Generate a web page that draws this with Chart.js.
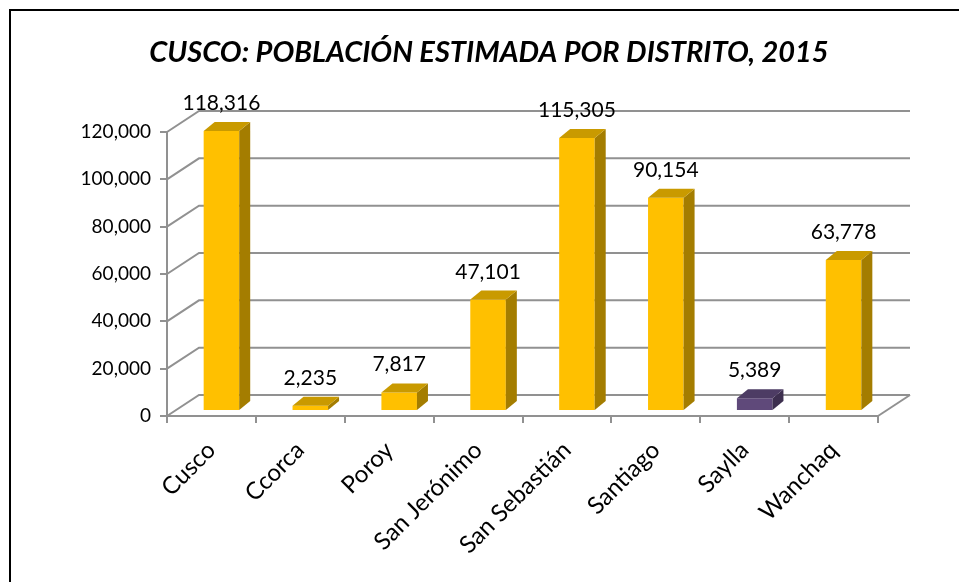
<!DOCTYPE html>
<html>
<head>
<meta charset="utf-8">
<title>Cusco: población estimada por distrito, 2015</title>
<script src="https://cdn.jsdelivr.net/npm/chart.js@4"></script>
<style>
    html, body { margin: 0; padding: 0; background: #fff; overflow: hidden; }
    #marco { position: absolute; left: 9px; top: 9px; width: 1000px; height: 700px; border: 2px solid #000; box-sizing: border-box; }
    #contenedor { position: absolute; left: 0; top: 0; width: 959px; height: 582px; }
</style>
</head>
<body>
<div id="marco"></div>
<div id="contenedor"><canvas id="grafico"></canvas></div>
<script>
// Datos del gráfico
const titulo = 'CUSCO: POBLACIÓN ESTIMADA POR DISTRITO, 2015';
const distritos = ['Cusco', 'Ccorca', 'Poroy', 'San Jerónimo', 'San Sebastián', 'Santiago', 'Saylla', 'Wanchaq'];
const poblacion = [118316, 2235, 7817, 47101, 115305, 90154, 5389, 63778];
const marcasY = [0, 20000, 40000, 60000, 80000, 100000, 120000];
const destacado = 'Saylla';

// Colores (frente, lado, tapa)
const amarillo = { frente: '#FFC000', lado: '#A47D00', tapa: '#C99A00' };
const morado = { frente: '#5F497A', lado: '#3D2F4F', tapa: '#4D3C64' };
const gris = '#919191';

// Desplazamientos para simular la perspectiva 3D
const prof = { muroX: 32, muroY: -21, barraX: 10, barraY: -5, cajaX: 11, cajaY: -9 };

const fuente = 'Lato, "Open Sans", sans-serif';

function colorDe(i) {
    return distritos[i] === destacado ? morado : amarillo;
}

const efecto3d = {
    id: 'efecto3d',
    afterLayout(chart) {
        // El título está centrado un poco a la derecha del centro del lienzo
        chart.titleBlock.left += 100;
    },
    beforeDatasetsDraw(chart) {
        const { ctx, chartArea, scales } = chart;
        const y = scales.y;
        ctx.save();
        ctx.strokeStyle = gris;
        ctx.lineWidth = 2;
        // Líneas de la pared del fondo y diagonales de la pared izquierda
        for (const v of marcasY) {
            const py = y.getPixelForValue(v);
            ctx.beginPath();
            ctx.moveTo(chartArea.left, py);
            ctx.lineTo(chartArea.left + prof.muroX, py + prof.muroY);
            ctx.lineTo(chartArea.right + prof.muroX, py + prof.muroY);
            ctx.stroke();
        }
        // Borde derecho del piso
        ctx.beginPath();
        ctx.moveTo(chartArea.right, chartArea.bottom);
        ctx.lineTo(chartArea.right + prof.muroX, chartArea.bottom + prof.muroY);
        ctx.stroke();
        ctx.restore();

        // Las barras se dibujan un poco hacia el fondo
        ctx.save();
        ctx.translate(prof.barraX, prof.barraY);
    },
    afterDatasetsDraw(chart) {
        const { ctx } = chart;
        const meta = chart.getDatasetMeta(0);
        meta.data.forEach((bar, i) => {
            const { x, y, base, width } = bar.getProps(['x', 'y', 'base', 'width'], true);
            const izq = x - width / 2;
            const der = x + width / 2;
            const c = colorDe(i);

            // Cara lateral
            ctx.fillStyle = c.lado;
            ctx.beginPath();
            ctx.moveTo(der, y);
            ctx.lineTo(der + prof.cajaX, y + prof.cajaY);
            ctx.lineTo(der + prof.cajaX, base + prof.cajaY);
            ctx.lineTo(der, base);
            ctx.closePath();
            ctx.fill();

            // Cara superior
            ctx.fillStyle = c.tapa;
            ctx.beginPath();
            ctx.moveTo(izq, y);
            ctx.lineTo(izq + prof.cajaX, y + prof.cajaY);
            ctx.lineTo(der + prof.cajaX, y + prof.cajaY);
            ctx.lineTo(der, y);
            ctx.closePath();
            ctx.fill();
        });
        ctx.restore();

        // Etiquetas de valores
        ctx.save();
        ctx.fillStyle = '#000';
        ctx.font = '21px ' + fuente;
        ctx.textAlign = 'center';
        ctx.textBaseline = 'alphabetic';
        meta.data.forEach((bar, i) => {
            const texto = poblacion[i].toLocaleString('en-US');
            ctx.fillText(texto, bar.x + prof.barraX, bar.y + prof.barraY - 21);
        });
        ctx.restore();
    }
};

const ctx = document.getElementById('grafico').getContext('2d');

new Chart(ctx, {
    type: 'bar',
    data: {
        labels: distritos,
        datasets: [{
            label: 'Población',
            data: poblacion,
            backgroundColor: distritos.map((d, i) => colorDe(i).frente),
            borderWidth: 0,
            categoryPercentage: 1,
            barPercentage: 0.4,
            clip: false
        }]
    },
    options: {
        responsive: true,
        maintainAspectRatio: false,
        animation: false,
        locale: 'en-US',
        layout: {
            padding: { left: 0, right: 81, top: 20, bottom: 0 }
        },
        plugins: {
            legend: { display: false },
            tooltip: { enabled: false },
            title: {
                display: true,
                text: titulo,
                color: '#000',
                font: { family: fuente, size: 29, weight: 'bold', style: 'italic' },
                padding: { top: 15, bottom: 62.2 }
            }
        },
        scales: {
            x: {
                afterFit(scale) { scale.height = 166; },
                grid: {
                    offset: true,
                    drawOnChartArea: false,
                    tickLength: 7,
                    color: gris,
                    lineWidth: 2
                },
                border: { display: true, color: gris, width: 2 },
                ticks: {
                    color: '#000',
                    font: { family: fuente, size: 24 },
                    minRotation: 45,
                    maxRotation: 45,
                    padding: 13
                }
            },
            y: {
                min: 0,
                max: 120000,
                afterFit(scale) { scale.width = 167; },
                grid: {
                    drawOnChartArea: false,
                    tickLength: 7,
                    color: gris,
                    lineWidth: 2
                },
                border: { display: true, color: gris, width: 2 },
                ticks: {
                    stepSize: 20000,
                    color: '#000',
                    padding: 9,
                    font: { family: fuente, size: 19 }
                }
            }
        }
    },
    plugins: [efecto3d]
});
</script>
</body>
</html>
